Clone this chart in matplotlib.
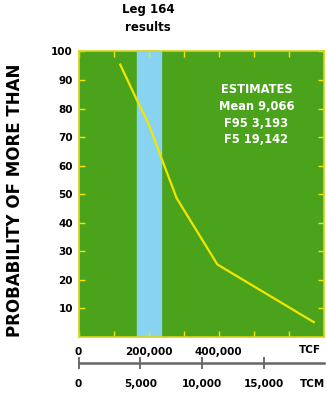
import matplotlib
matplotlib.use('Agg')
import matplotlib.pyplot as plt

# Data
tcf = [119000, 166000, 199000, 233000, 280000, 396000, 671000]
prob = [95.4, 83.1, 74.9, 63.8, 48.6, 25.4, 5.2]
leg164_band = (166000, 234000)
estimates = ['ESTIMATES', 'Mean 9,066', 'F95 3,193', 'F5 19,142']
x_ticks = [0, 100000, 200000, 300000, 400000, 500000, 600000, 700000]
x_labels = ['0', '', '200,000', '', '400,000', '', '', '']
y_ticks = [10, 20, 30, 40, 50, 60, 70, 80, 90, 100]
tcm_ticks = [0, 5000, 10000, 15000]
tcm_labels = ['0', '5,000', '10,000', '15,000']
TCF_PER_TCM = 35.3

plt.rcParams['font.family'] = 'DejaVu Sans'
plt.rcParams['font.weight'] = 'bold'

W, H = 327, 394
fig = plt.figure(figsize=(W / 100, H / 100), dpi=100)
ax = fig.add_axes([78.5 / W, (H - 337) / H, 245.5 / W, 285.5 / H])

green = '#4ba31b'
yellow = '#f2e600'
ax.set_facecolor(green)
ax.axvspan(leg164_band[0], leg164_band[1], color='#88d4f0', zorder=1)
ax.plot(tcf, prob, color=yellow, lw=1.6, zorder=3)

ax.set_xlim(0, 700000)
ax.set_ylim(0, 100)
ax.set_xticks(x_ticks)
ax.set_xticklabels(x_labels)
ax.set_yticks(y_ticks)
ax.set_yticklabels([str(v) for v in y_ticks])
ax.tick_params(axis='both', direction='in', color=yellow, length=4, width=1,
               labelsize=7.5, top=True, right=True)
ax.tick_params(axis='x', pad=7)
ax.tick_params(axis='y', pad=4)
for lab in ax.get_xticklabels() + ax.get_yticklabels():
    lab.set_fontweight('bold')
for s in ax.spines.values():
    s.set_color('#d8d21e')
    s.set_linewidth(1.2)

ax.set_ylabel('PROBABILITY OF MORE THAN', fontsize=12, fontweight='bold')
ax.yaxis.set_label_coords(-0.22, 0.48)

# estimates box
ax.text(0.725, 0.89, '\n'.join(estimates), transform=ax.transAxes, ha='center',
        va='top', color='white', fontsize=8.3, fontweight='bold', linespacing=1.38)

# second axis in TCM
sec = ax.secondary_xaxis(-0.09, functions=(lambda x: x / TCF_PER_TCM,
                                            lambda x: x * TCF_PER_TCM))
sec.set_xticks(tcm_ticks)
sec.set_xticklabels(tcm_labels)
sec.tick_params(direction='inout', length=8, width=1.2, color='#555555',
                labelsize=7.5, pad=8)
for lab in sec.get_xticklabels():
    lab.set_fontweight('bold')
sec.spines['bottom'].set_color('#666666')
sec.spines['bottom'].set_linewidth(1.8)

fig.text(310 / W, 1 - 350 / H, 'TCF', ha='center', va='center', fontsize=7.5,
         fontweight='bold')
fig.text(312 / W, 1 - 384 / H, 'TCM', ha='center', va='center', fontsize=7.5,
         fontweight='bold')
fig.text(148 / W, 1 - 18.5 / H, 'Leg 164\nresults', ha='center', va='center',
         fontsize=8.5, fontweight='bold', linespacing=1.45)

fig.savefig('out.png', dpi=100)
